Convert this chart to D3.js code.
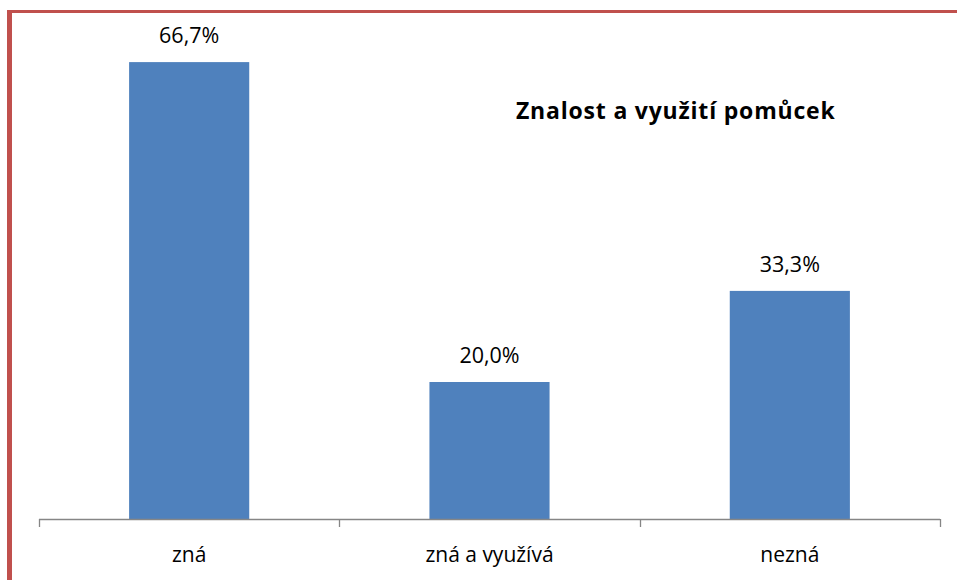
<!DOCTYPE html>
<html>
<head>
<meta charset="utf-8">
<script src="https://cdn.jsdelivr.net/npm/d3@7"></script>
<style>
    body { margin: 0; background: #fff; }
    text { font-family: "Open Sans", sans-serif; fill: #000; }
</style>
</head>
<body>
<div id="chart"></div>
<script>
var categories = ["zná", "zná a využívá", "nezná"];
var values = [66.7, 20.0, 33.3];
var valueLabels = ["66,7%", "20,0%", "33,3%"];
var chartTitle = "Znalost a využití pomůcek";

var W = 957, H = 580;
var margin = { top: 39.5, right: 17, bottom: 61, left: 39 },
    width = W - margin.left - margin.right,
    height = H - margin.top - margin.bottom;

var svg = d3.select("#chart")
    .append("svg")
    .attr("width", W)
    .attr("height", H);

// red frame (left + top)
svg.append("rect").attr("x", 7).attr("y", 10).attr("width", 5).attr("height", H - 10).attr("fill", "#c0504d");
svg.append("rect").attr("x", 7).attr("y", 10).attr("width", W - 7).attr("height", 3).attr("fill", "#c0504d");

var g = svg.append("g")
    .attr("transform", "translate(" + margin.left + "," + margin.top + ")");

var x = d3.scaleBand()
    .domain(categories)
    .range([0, width])
    .paddingInner(0.6)
    .paddingOuter(0.3);

var y = d3.scaleLinear()
    .domain([0, 70])
    .range([height, 0]);

g.selectAll(".bar")
    .data(values)
    .enter().append("rect")
    .attr("class", "bar")
    .attr("x", function (d, i) { return x(categories[i]); })
    .attr("y", function (d) { return y(d); })
    .attr("width", x.bandwidth())
    .attr("height", function (d) { return height - y(d); })
    .attr("fill", "#4f81bd");

g.selectAll(".val")
    .data(values)
    .enter().append("text")
    .attr("class", "val")
    .attr("x", function (d, i) { return x(categories[i]) + x.bandwidth() / 2; })
    .attr("y", function (d) { return y(d) - 19; })
    .attr("text-anchor", "middle")
    .style("font-size", "21.5px")
    .text(function (d, i) { return valueLabels[i]; });

// category axis with ticks between categories
var step = width / categories.length;
var axis = g.append("g").attr("transform", "translate(0," + height + ")");
axis.append("line")
    .attr("x1", 0).attr("x2", width)
    .attr("y1", 0.5).attr("y2", 0.5)
    .attr("stroke", "#868686").attr("stroke-width", 1.3);
axis.selectAll(".tk")
    .data(d3.range(categories.length + 1))
    .enter().append("line")
    .attr("x1", function (d) { return Math.round(d * step) + 0.5; })
    .attr("x2", function (d) { return Math.round(d * step) + 0.5; })
    .attr("y1", 0).attr("y2", 8)
    .attr("stroke", "#868686").attr("stroke-width", 1.3);
axis.selectAll(".lbl")
    .data(categories)
    .enter().append("text")
    .attr("x", function (d) { return x(d) + x.bandwidth() / 2; })
    .attr("y", 43)
    .attr("text-anchor", "middle")
    .style("font-size", "21px")
    .text(function (d) { return d; });

svg.append("text")
    .attr("x", 516)
    .attr("y", 119)
    .style("font-size", "23px")
    .style("font-weight", "bold")
    .style("letter-spacing", "0.8px")
    .text(chartTitle);
</script>
</body>
</html>
